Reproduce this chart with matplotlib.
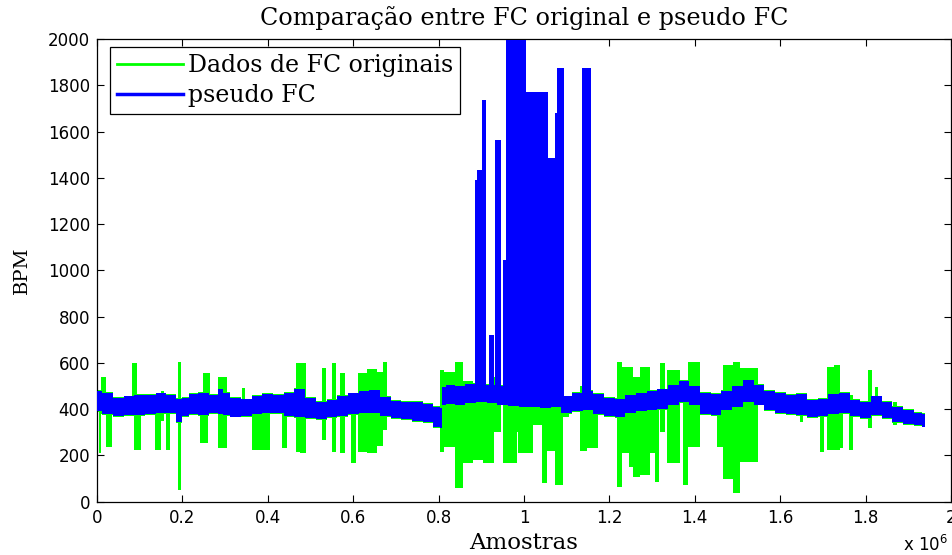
import matplotlib
matplotlib.use('Agg')
import matplotlib.pyplot as plt
from matplotlib.lines import Line2D

# ---------------- data (x in units of 1e6 samples, y in BPM) ----------------
blue_x = [0.00, 0.025, 0.05, 0.075, 0.10, 0.125, 0.15, 0.175, 0.195, 0.205, 0.225, 0.25, 0.275, 0.29,
          0.30, 0.325, 0.35, 0.375, 0.40, 0.425, 0.45, 0.475, 0.50, 0.525, 0.55, 0.575, 0.60, 0.625,
          0.65, 0.675, 0.70, 0.725, 0.75, 0.775, 0.80, 0.805, 0.81, 0.825, 0.85, 0.875, 0.90, 0.925,
          0.95, 0.975, 1.00, 1.025, 1.05, 1.075, 1.10, 1.125, 1.15, 1.175, 1.20, 1.225, 1.25, 1.275,
          1.30, 1.325, 1.35, 1.375, 1.40, 1.425, 1.45, 1.475, 1.50, 1.525, 1.55, 1.575, 1.60, 1.625,
          1.65, 1.675, 1.70, 1.725, 1.75, 1.775, 1.80, 1.825, 1.85, 1.875, 1.90, 1.925, 1.94]
blue_lo = [390, 380, 370, 375, 375, 380, 385, 382, 345, 370, 380, 375, 385, 380,
           375, 368, 372, 380, 385, 383, 372, 365, 360, 358, 365, 372, 378, 382,
           385, 370, 360, 356, 350, 345, 322, 318, 420, 422, 420, 425, 430, 425,
           420, 412, 410, 410, 405, 410, 382, 390, 395, 380, 370, 365, 385, 390,
           395, 400, 420, 430, 420, 380, 375, 395, 410, 430, 420, 395, 385, 380,
           375, 365, 370, 380, 385, 370, 360, 375, 360, 345, 335, 330, 325]
blue_hi = [480, 470, 450, 455, 460, 462, 468, 460, 445, 450, 465, 470, 462, 485,
           470, 450, 442, 458, 465, 462, 470, 488, 450, 430, 440, 458, 468, 478,
           482, 452, 435, 430, 430, 424, 410, 405, 495, 505, 500, 510, 505, 505,
           500, 495, 490, 490, 485, 485, 455, 470, 480, 465, 450, 445, 460, 470,
           480, 485, 505, 520, 500, 470, 465, 480, 500, 525, 505, 480, 470, 460,
           465, 440, 445, 465, 470, 440, 430, 455, 430, 410, 395, 385, 378]

# pseudo FC spikes: start, end, top
bspk_x0 = [0.885, 0.890, 0.901, 0.919, 0.932, 0.951, 0.957, 1.005, 1.057, 1.073, 1.077, 1.137]
bspk_x1 = [0.890, 0.901, 0.911, 0.930, 0.945, 0.957, 1.005, 1.057, 1.073, 1.077, 1.094, 1.157]
bspk_top = [1390, 1433, 1736, 720, 1563, 1044, 1995, 1772, 1484, 1678, 1873, 1873]
bspk_base = 430

# original FC data: segments start, end, low, high
g_x0 = [0.004, 0.010, 0.021, 0.083, 0.086, 0.135, 0.151, 0.161, 0.189, 0.241, 0.249, 0.284,
        0.339, 0.363, 0.433, 0.466, 0.475, 0.526, 0.550, 0.568, 0.596, 0.612, 0.632, 0.655,
        0.670, 0.803, 0.813, 0.838, 0.856, 0.881, 0.905, 0.930, 0.951, 0.983, 0.987, 1.022,
        1.042, 1.053, 1.073, 1.092, 1.131, 1.147, 1.217, 1.229, 1.245, 1.256, 1.272, 1.295,
        1.307, 1.319, 1.334, 1.373, 1.385, 1.451, 1.467, 1.490, 1.506, 1.647, 1.694, 1.709,
        1.725, 1.740, 1.760, 1.806, 1.822, 1.865]
g_x1 = [0.010, 0.021, 0.034, 0.093, 0.102, 0.150, 0.157, 0.171, 0.197, 0.260, 0.265, 0.305,
        0.346, 0.405, 0.444, 0.475, 0.490, 0.536, 0.560, 0.580, 0.606, 0.632, 0.655, 0.670,
        0.679, 0.813, 0.838, 0.856, 0.881, 0.905, 0.930, 0.945, 0.983, 0.987, 1.022, 1.042,
        1.053, 1.073, 1.092, 1.105, 1.147, 1.174, 1.229, 1.245, 1.256, 1.272, 1.295, 1.307,
        1.315, 1.330, 1.365, 1.385, 1.412, 1.467, 1.490, 1.506, 1.549, 1.654, 1.702, 1.725,
        1.740, 1.748, 1.771, 1.814, 1.830, 1.873]
g_lo = [209, 380, 238, 380, 223, 223, 350, 223, 50, 253, 380, 231,
        390, 223, 231, 215, 209, 267, 216, 210, 166, 216, 210, 240,
        310, 216, 238, 60, 166, 180, 166, 300, 166, 300, 209, 330,
        80, 220, 72, 367, 217, 230, 65, 209, 151, 108, 115, 209,
        86, 300, 166, 73, 238, 238, 100, 36, 170, 346, 216, 223,
        223, 230, 223, 317, 400, 330]
g_hi = [470, 541, 420, 598, 420, 440, 480, 420, 605, 420, 557, 541,
        490, 420, 420, 598, 598, 576, 600, 555, 470, 555, 575, 560,
        605, 569, 560, 605, 520, 500, 500, 540, 480, 460, 460, 450,
        460, 450, 450, 440, 500, 460, 605, 584, 584, 540, 584, 480,
        480, 598, 570, 500, 605, 470, 590, 605, 580, 420, 440, 584,
        591, 470, 460, 569, 497, 432]

x_ticks = [0, 0.2, 0.4, 0.6, 0.8, 1.0, 1.2, 1.4, 1.6, 1.8, 2.0]
x_tick_labels = ['0', '0.2', '0.4', '0.6', '0.8', '1', '1.2', '1.4', '1.6', '1.8', '2']
y_ticks = [0, 200, 400, 600, 800, 1000, 1200, 1400, 1600, 1800, 2000]

GREEN = '#00ff00'
BLUE = '#0000ff'
serif = ['DejaVu Serif']
sans = ['DejaVu Sans']

fig = plt.figure(figsize=(9.52, 5.55), dpi=100)
ax = fig.add_axes([97 / 952, 1 - 501.7 / 555, 854 / 952, 462.7 / 555])

# original data (green)
ax.bar(x=g_x0, height=[h - l for l, h in zip(g_lo, g_hi)],
       width=[b - a for a, b in zip(g_x0, g_x1)], bottom=g_lo,
       align='edge', color=GREEN, linewidth=0, zorder=2)
ax.fill_between(blue_x, [v - 4 for v in blue_lo], [v + 4 for v in blue_hi], step='mid',
                color=GREEN, linewidth=0, zorder=2)

# pseudo FC (blue)
ax.bar(x=bspk_x0, height=[t - bspk_base for t in bspk_top],
       width=[b - a for a, b in zip(bspk_x0, bspk_x1)], bottom=bspk_base,
       align='edge', color=BLUE, linewidth=0, zorder=3)
ax.fill_between(blue_x, blue_lo, blue_hi, step='mid', color=BLUE, linewidth=0, zorder=3)

ax.set_xlim(0, 2.0)
ax.set_ylim(0, 2000)
ax.set_xticks(x_ticks)
ax.set_xticklabels(x_tick_labels)
ax.set_yticks(y_ticks)
ax.tick_params(direction='in', length=5, width=0.8, top=True, right=True,
               labelsize=12, pad=5)
for lab in ax.get_xticklabels() + ax.get_yticklabels():
    lab.set_fontfamily(sans)
for s in ax.spines.values():
    s.set_linewidth(0.9)

ax.set_title('Comparação entre FC original e pseudo FC', fontfamily=serif, fontsize=17.2, pad=10)
ax.set_ylabel('BPM', fontfamily=serif, fontsize=14)
ax.yaxis.set_label_coords(-0.077, 0.5)
ax.set_xlabel('Amostras', fontfamily=serif, fontsize=16.5)
ax.xaxis.set_label_coords(0.5, -0.065)
fig.text(903 / 952, 1 - 545 / 555, r'x 10$^{6}$', fontfamily=sans, fontsize=12, va='center', ha='left')

handles = [Line2D([], [], color=GREEN, lw=2), Line2D([], [], color=BLUE, lw=2.5)]
leg = ax.legend(handles, ['Dados de FC originais', 'pseudo FC'], loc='upper left',
                bbox_to_anchor=(0.0152, 0.983), prop={'family': serif, 'size': 17},
                fancybox=False, framealpha=1, edgecolor='black', borderaxespad=0,
                handlelength=2.8, handletextpad=0.2, labelspacing=0.3, borderpad=0.3)
leg.get_frame().set_linewidth(0.9)

fig.savefig('out.png', dpi=100)
